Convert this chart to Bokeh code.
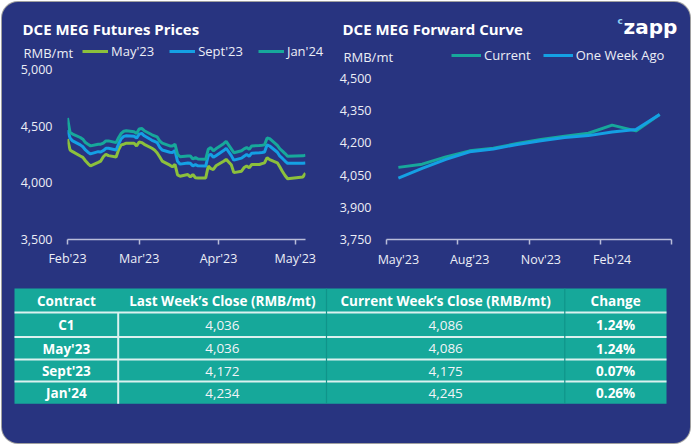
import pandas as pd
from bokeh.plotting import figure
from bokeh.models import (Range1d, FixedTicker, Legend, LegendItem,
                          NumeralTickFormatter, CustomJSTickFormatter, Column, Row)
from bokeh.embed import file_html
from bokeh.resources import INLINE
from bokeh.core.properties import value

# ---------------- data ----------------
dates = [
    "2023-02-01", "2023-02-02", "2023-02-03", "2023-02-06", "2023-02-07", "2023-02-08", "2023-02-09", "2023-02-10",
    "2023-02-13", "2023-02-14", "2023-02-15", "2023-02-16", "2023-02-17", "2023-02-20", "2023-02-21", "2023-02-22",
    "2023-02-23", "2023-02-24", "2023-02-27", "2023-02-28",
    "2023-03-01", "2023-03-02", "2023-03-03", "2023-03-06", "2023-03-07", "2023-03-08", "2023-03-09", "2023-03-10",
    "2023-03-13", "2023-03-14", "2023-03-15", "2023-03-16", "2023-03-17", "2023-03-20", "2023-03-21", "2023-03-22",
    "2023-03-23", "2023-03-24", "2023-03-27", "2023-03-28", "2023-03-29", "2023-03-30", "2023-03-31",
    "2023-04-03", "2023-04-04", "2023-04-06", "2023-04-07", "2023-04-10", "2023-04-11", "2023-04-12", "2023-04-13",
    "2023-04-14", "2023-04-17", "2023-04-18", "2023-04-19", "2023-04-20", "2023-04-21", "2023-04-24", "2023-04-25",
    "2023-04-26", "2023-04-27", "2023-04-28",
    "2023-05-04", "2023-05-05",
]
may23 = [
    4386, 4290, 4275, 4237, 4225, 4195, 4170, 4150, 4180, 4192, 4230, 4252, 4240, 4228, 4295, 4335, 4341, 4350, 4350, 4326,
    4360, 4355, 4340, 4305, 4290, 4266, 4230, 4192, 4156, 4141, 4162, 4070, 4058, 4073, 4052, 4073, 4045, 4043, 4043,
    4148, 4125, 4118, 4150,
    4190, 4207, 4160, 4090, 4103, 4135, 4148, 4133, 4162, 4162, 4170, 4177, 4222, 4205, 4177, 4140, 4100, 4065, 4036,
    4052, 4086,
]
sept23 = [
    4466, 4395, 4370, 4335, 4318, 4290, 4270, 4255, 4275, 4272, 4285, 4305, 4305, 4290, 4345, 4390, 4410, 4415, 4410, 4395,
    4430, 4436, 4415, 4375, 4365, 4355, 4315, 4290, 4270, 4268, 4285, 4190, 4165, 4175, 4172, 4150, 4160, 4150, 4148,
    4240, 4252, 4225, 4240,
    4285, 4305, 4240, 4200, 4218, 4235, 4250, 4235, 4262, 4266, 4268, 4272, 4335, 4325, 4270, 4235, 4215, 4192, 4172,
    4172, 4175,
]
jan24 = [
    4573, 4445, 4430, 4400, 4385, 4355, 4340, 4326, 4341, 4341, 4350, 4370, 4370, 4355, 4400, 4436, 4455, 4460, 4450, 4436,
    4475, 4480, 4460, 4424, 4415, 4406, 4370, 4350, 4326, 4326, 4341, 4252, 4230, 4237, 4237, 4210, 4222, 4210, 4207,
    4296, 4311, 4283, 4300,
    4345, 4365, 4300, 4266, 4283, 4300, 4311, 4296, 4326, 4330, 4332, 4335, 4395, 4390, 4330, 4300, 4280, 4258, 4234,
    4238, 4245,
]
month_ticks = ["2023-02-01", "2023-03-01", "2023-04-01", "2023-05-01"]
month_labels = ["Feb'23", "Mar'23", "Apr'23", "May'23"]
left_x_start, left_x_end = "2023-02-01", "2023-05-05"
left_y_ticks = [3500, 4000, 4500, 5000]

fc_contracts = ["May'23", "Jun'23", "Jul'23", "Aug'23", "Sep'23", "Oct'23",
                "Nov'23", "Dec'23", "Jan'24", "Feb'24", "Mar'24", "Apr'24"]
fc_current = [4086, 4101, 4135, 4163, 4175, 4197, 4216, 4231, 4245, 4283, 4256, 4332]
fc_week_ago = [4036, 4081, 4123, 4159, 4172, 4193, 4210, 4225, 4234, 4251, 4262, 4332]
fc_label_idx = [0, 3, 6, 9]
right_y_ticks = [3750, 3900, 4050, 4200, 4350, 4500]

left_series = ["May'23", "Sept'23", "Jan'24"]
right_series = ["Current", "One Week Ago"]
titles = ["DCE MEG Futures Prices", "DCE MEG Forward Curve"]
unit_label = "RMB/mt"

table_header = ["Contract", "Last Week’s Close (RMB/mt)", "Current Week’s Close (RMB/mt)", "Change"]
tbl_contract = ["C1", "May'23", "Sept'23", "Jan'24"]
tbl_last = [4036, 4036, 4172, 4234]
tbl_current = [4086, 4086, 4175, 4245]
tbl_change = [1.24, 1.24, 0.07, 0.26]

# ---------------- style ----------------
NAVY = "#283480"
GREEN = "#8cc03c"
BLUE = "#14a0e4"
TEAL = "#17a89b"
TABLE_TEAL = "#16a89a"
TXT = "#eceef6"
AXIS = "#b9bdd9"
FONT = "Open Sans"
NAN = float("nan")


def ms(s):
    return pd.Timestamp(s).value // 10**6


def base_fig(**kw):
    p = figure(output_backend="svg", toolbar_location=None,
               background_fill_color=None, border_fill_color=None,
               outline_line_color=None, **kw)
    p.grid.visible = False
    return p


def style_axes(p):
    for ax in p.xaxis:
        ax.axis_line_color = AXIS
        ax.axis_line_width = 1.5
        ax.major_label_text_color = TXT
        ax.major_label_text_font = FONT
        ax.major_label_text_font_size = "12.5px"
    for ax in p.yaxis:
        ax.axis_line_color = None
        ax.major_tick_line_color = None
        ax.minor_tick_line_color = None
        ax.major_tick_out = 0
        ax.major_tick_in = 0
        ax.minor_tick_out = 0
        ax.minor_tick_in = 0
        ax.major_label_text_color = TXT
        ax.major_label_text_font = FONT
        ax.major_label_text_font_size = "12.5px"
        ax.major_label_standoff = 15
        ax.formatter = NumeralTickFormatter(format="0,0")


# ---------------- header (titles, units, legends, logo) ----------------
HW, HH = 688, 62
header = base_fig(width=HW, height=HH, x_range=Range1d(0, HW), y_range=Range1d(HH, 0),
                  min_border=0, x_axis_location=None, y_axis_location=None)
header.text(x=[20, 340], y=[26, 26], text=titles, text_font=value(FONT), text_font_style="bold",
            text_font_size="15px", text_color="white", text_baseline="middle", text_align="left")
header.text(x=[21, 341], y=[50, 54], text=[unit_label, unit_label], text_font=value(FONT),
            text_font_size="13px", text_color=TXT, text_baseline="middle", text_align="left")
header.text(x=[615], y=[18], text=["c"], text_font=value("DejaVu Sans"), text_font_style="bold",
            text_font_size="9px", text_color="#8fd0f5", text_baseline="alphabetic", text_align="left")
header.text(x=[621], y=[24], text=["zapp"], text_font=value("DejaVu Sans"), text_font_style="bold",
            text_font_size="20px", text_color="white", text_baseline="alphabetic", text_align="left")

leg_style = dict(orientation="horizontal", background_fill_alpha=0, border_line_color=None,
                 label_text_color=TXT, label_text_font=FONT, label_text_font_size="13px",
                 glyph_height=14, label_height=14, label_standoff=3, padding=0, margin=0)
# legend keys (no visible data, only used to draw the legend swatches)
lkeys = [header.line(x=[NAN], y=[NAN], line_color=c, line_width=3) for c in (GREEN, BLUE, TEAL)]
header.add_layout(Legend(items=[LegendItem(label=s, renderers=[r]) for s, r in zip(left_series, lkeys)],
                         location=(80, 4), glyph_width=26, spacing=15, **leg_style))
rkeys = [header.line(x=[NAN], y=[NAN], line_color=c, line_width=3) for c in (TEAL, BLUE)]
header.add_layout(Legend(items=[LegendItem(label=s, renderers=[r]) for s, r in zip(right_series, rkeys)],
                         location=(449, 0), glyph_width=30, spacing=12, **leg_style))

# ---------------- left chart ----------------
CH = 219
dts = pd.to_datetime(dates)
left = base_fig(width=334, height=CH, x_axis_type="datetime",
                x_range=Range1d(ms(left_x_start), ms(left_x_end)), y_range=Range1d(3500, 5000),
                min_border_left=65, min_border_right=31, min_border_top=9, min_border_bottom=40)
left.line(dts, may23, line_color=GREEN, line_width=3)
left.line(dts, sept23, line_color=BLUE, line_width=3)
left.line(dts, jan24, line_color=TEAL, line_width=3)
style_axes(left)
lx = left.xaxis[0]
tick_ms = [ms(t) for t in month_ticks]
lx.ticker = FixedTicker(ticks=tick_ms)
lx.formatter = CustomJSTickFormatter(args=dict(tvals=tick_ms, tlabels=month_labels),
                                     code="const i = tvals.indexOf(tick); return i >= 0 ? tlabels[i] : '';")
lx.major_tick_line_color = AXIS
lx.major_tick_line_width = 1.5
lx.major_tick_out = 5
lx.major_tick_in = 0
lx.minor_tick_line_color = None
lx.minor_tick_out = 0
lx.major_label_standoff = 5
left.yaxis[0].ticker = FixedTicker(ticks=left_y_ticks)

# ---------------- right chart ----------------
right = base_fig(width=354, height=CH,
                 x_range=Range1d(-0.5, len(fc_contracts) - 0.5), y_range=Range1d(3750, 4542),
                 min_border_left=50, min_border_right=19, min_border_top=9, min_border_bottom=40)
xi = list(range(len(fc_contracts)))
right.line(xi, fc_current, line_color=TEAL, line_width=3)
right.line(xi, fc_week_ago, line_color=BLUE, line_width=3)
style_axes(right)
rx = right.xaxis[0]
rx.ticker = FixedTicker(ticks=fc_label_idx,
                        minor_ticks=[i - 0.5 for i in fc_label_idx] + [len(fc_contracts) - 0.5])
rx.formatter = CustomJSTickFormatter(args=dict(clabels=fc_contracts),
                                     code="return clabels[Math.round(tick)];")
rx.major_tick_line_color = None
rx.major_tick_out = 0
rx.major_tick_in = 0
rx.minor_tick_line_color = AXIS
rx.minor_tick_line_width = 1.5
rx.minor_tick_out = 5
rx.minor_tick_in = 0
rx.major_label_standoff = 6
right.yaxis[0].ticker = FixedTicker(ticks=right_y_ticks)

# ---------------- table ----------------
tbl = base_fig(width=688, height=164, x_range=Range1d(0, 688), y_range=Range1d(164, 0),
               min_border=0, x_axis_location=None, y_axis_location=None)
col_edges = [12, 115.7, 324, 562.3, 664]
row_edges = [9, 33, 57.5, 80, 102, 124.3]
tbl.quad(left=col_edges[0], right=col_edges[-1], top=row_edges[0], bottom=row_edges[-1],
         fill_color=TABLE_TEAL, line_color=None)
tbl.segment(x0=[col_edges[0]] * 4, x1=[col_edges[-1]] * 4, y0=row_edges[1:-1], y1=row_edges[1:-1],
            line_color="#dcf1ef", line_width=2)
tbl.segment(x0=[col_edges[1]], x1=[col_edges[1]], y0=[row_edges[1]], y1=[row_edges[-1]],
            line_color="#dcf1ef", line_width=2)
tbl.segment(x0=col_edges[2:4], x1=col_edges[2:4], y0=[row_edges[0]] * 2, y1=[row_edges[-1]] * 2,
            line_color="#10948a", line_width=1.2)

col_mid = [(a + b) / 2 for a, b in zip(col_edges[:-1], col_edges[1:])]
row_mid = [(a + b) / 2 + 0.5 for a, b in zip(row_edges[:-1], row_edges[1:])]

tbl.text(x=col_mid, y=[row_mid[0]] * 4, text=table_header, text_align="center", text_baseline="middle",
         text_font=value(FONT), text_font_style="bold", text_font_size="13.5px", text_color="white")
n = len(tbl_contract)
tbl.text(x=[col_mid[0]] * n, y=row_mid[1:], text=tbl_contract, text_align="center", text_baseline="middle",
         text_font=value(FONT), text_font_style="bold", text_font_size="13.5px", text_color="white")
tbl.text(x=[col_mid[1]] * n, y=row_mid[1:], text=[f"{v:,}" for v in tbl_last], text_align="center",
         text_baseline="middle", text_font=value(FONT), text_font_size="13.5px", text_color="#f2f4f8")
tbl.text(x=[col_mid[2]] * n, y=row_mid[1:], text=[f"{v:,}" for v in tbl_current], text_align="center",
         text_baseline="middle", text_font=value(FONT), text_font_size="13.5px", text_color="#f2f4f8")
tbl.text(x=[col_mid[3]] * n, y=row_mid[1:], text=[f"{v:.2f}%" for v in tbl_change], text_align="center",
         text_baseline="middle", text_font=value(FONT), text_font_style="bold", text_font_size="13.5px",
         text_color="white")

charts = Row(children=[left, right], styles={"margin-top": "-4px"})
layout = Column(children=[header, charts, tbl],
                styles={"background-color": NAVY, "border-radius": "16px",
                        "box-shadow": "0 0 0 1px #a0a0a0",
                        "margin-left": "2px", "margin-top": "2px"})

open("out.html", "w").write(file_html(layout, INLINE))
